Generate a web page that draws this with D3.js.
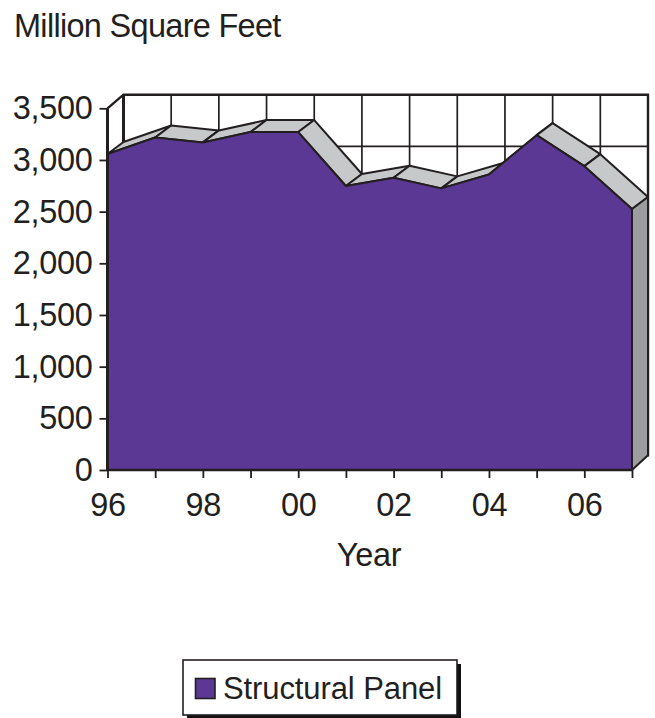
<!DOCTYPE html>
<html>
<head>
<meta charset="utf-8">
<script src="https://cdn.jsdelivr.net/npm/d3@7"></script>
<style>
html,body{margin:0;padding:0;background:#fff;}
svg{display:block;}
text{font-family:"Liberation Sans",Arial,sans-serif;fill:#231f20;}
</style>
</head>
<body>
<svg id="chart" width="655" height="718"></svg>
<script>
// Structural panel production, 1996 to 2007
const years = ["96","97","98","99","00","01","02","03","04","05","06","07"];
const production = [3058,3218,3170,3270,3270,2748,2828,2725,2860,3240,2940,2525];
const valueTicks = [0,500,1000,1500,2000,2500,3000,3500];
const labelledYears = ["96","98","00","02","04","06"];
const seriesName = "Structural Panel";
const unitTitle = "Million Square Feet";
const xTitle = "Year";

const ink = "#231f20", purple = "#5b3893", topFace = "#c7c8ca", sideFace = "#9b9d9e";
const plot = {left:107.5, right:632, top:108.3, bottom:470};
const depth = {dx:16, dy:-13.6, surfaceDy:-12, floorDy:-14.8};

const svg = d3.select("#chart");
const x = d3.scalePoint().domain(years).range([plot.left, plot.right]);
const y = d3.scaleLinear().domain([0,3500]).range([plot.bottom, plot.top]);
const fmt = d3.format(",");

const line = d3.line().curve(d3.curveLinearClosed);
const back = (px,py)=>[px+depth.dx, py+depth.surfaceDy];

// Back wall: frame and gridlines
const wall = svg.append("g").attr("stroke",ink).attr("fill","none");
wall.selectAll("line.v").data(years.slice(1,-1)).join("line").attr("class","v")
  .attr("x1",d=>x(d)+depth.dx).attr("x2",d=>x(d)+depth.dx)
  .attr("y1",y(3500)+depth.dy).attr("y2",y(0)+depth.dy).attr("stroke-width",1.7);
wall.selectAll("line.h").data(valueTicks.slice(1,-1)).join("line").attr("class","h")
  .attr("x1",plot.left+depth.dx).attr("x2",plot.right+depth.dx)
  .attr("y1",d=>y(d)+depth.dy).attr("y2",d=>y(d)+depth.dy).attr("stroke-width",1.7);
wall.append("path").attr("stroke-width",2.4)
  .attr("d",d3.line()([
    [plot.left,y(3500)],
    [plot.left+depth.dx,y(3500)+depth.dy],
    [plot.right+depth.dx,y(3500)+depth.dy],
    [plot.right+depth.dx,y(0)+depth.dy]
  ]));
wall.append("line").attr("stroke-width",3)
  .attr("x1",plot.left+depth.dx).attr("x2",plot.left+depth.dx)
  .attr("y1",y(3500)+depth.dy).attr("y2",y(0)+depth.dy);

// Sloped top surface, one facet per year interval
const facets = d3.pairs(years.map((yr,i)=>[x(yr),y(production[i])]));
svg.append("g").selectAll("path").data(facets).join("path")
  .attr("d",([a,b])=>line([a,b,back(...b),back(...a)]))
  .attr("fill",topFace).attr("stroke",ink).attr("stroke-width",2).attr("stroke-linejoin","round");

// Right-hand end face
const lastX = x(years[years.length-1]), lastV = production[production.length-1];
svg.append("path")
  .attr("d",line([[lastX,y(lastV)],back(lastX,y(lastV)),[lastX+depth.dx,y(0)+depth.floorDy],[lastX,y(0)]]))
  .attr("fill",sideFace).attr("stroke",ink).attr("stroke-width",2).attr("stroke-linejoin","round");

// Front area
const area = d3.area().x((d,i)=>x(years[i])).y0(y(0)).y1(d=>y(d));
svg.append("path").datum(production).attr("d",area)
  .attr("fill",purple).attr("stroke",ink).attr("stroke-width",2).attr("stroke-linejoin","round");

// Axes
const yAxis = d3.axisLeft(y).tickValues(valueTicks).tickSize(8).tickPadding(7).tickFormat(fmt);
const gy = svg.append("g").attr("transform",`translate(${plot.left},0)`).call(yAxis);
const xAxis = d3.axisBottom(x).tickSize(8).tickPadding(15)
  .tickFormat(d=>labelledYears.includes(d)?d:"");
const gx = svg.append("g").attr("transform",`translate(0,${plot.bottom})`).call(xAxis);
[gy,gx].forEach(g=>{
  g.attr("font-family",null).attr("font-size",null);
  g.selectAll("text").attr("font-size",32.5).attr("fill",ink).attr("letter-spacing",-0.3);
  g.selectAll(".tick line").attr("stroke",ink).attr("stroke-width",1.8);
});
gy.select(".domain").attr("stroke",ink).attr("stroke-width",3).attr("d",`M0,${plot.bottom}V${plot.top}`);
gx.select(".domain").attr("stroke",ink).attr("stroke-width",2.6).attr("d",`M${plot.left},0H${plot.right}`);

// Titles
svg.append("text").attr("x",14).attr("y",37).attr("font-size",32.5).attr("letter-spacing",-0.7).text(unitTitle);
svg.append("text").attr("x",369).attr("y",566).attr("font-size",32.5).attr("letter-spacing",-0.3).attr("text-anchor","middle").text(xTitle);

// Legend with drop shadow
const lg = svg.append("g");
lg.append("rect").attr("x",187).attr("y",664).attr("width",274).attr("height",54).attr("fill","#111");
lg.append("rect").attr("x",183).attr("y",660).attr("width",274).attr("height",55)
  .attr("fill","#fff").attr("stroke",ink).attr("stroke-width",1.6);
lg.append("rect").attr("x",195.5).attr("y",678.5).attr("width",19.5).attr("height",20)
  .attr("fill",purple).attr("stroke",ink).attr("stroke-width",1.6);
lg.append("text").attr("x",223).attr("y",699).attr("font-size",31).attr("letter-spacing",-0.1).text(seriesName);
</script>
</body>
</html>
